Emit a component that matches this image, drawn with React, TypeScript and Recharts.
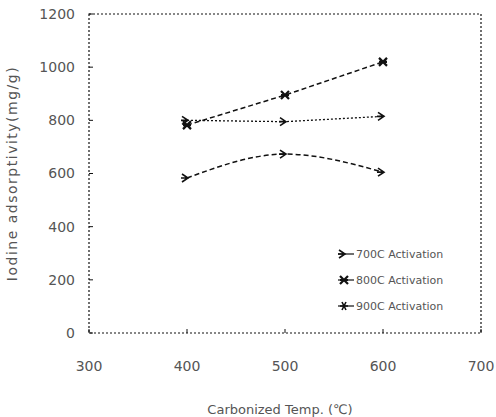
import { LineChart, Line, XAxis, YAxis, ReferenceArea } from 'recharts'

const carbonizedTemps = [400, 500, 600]
const act700 = [800, 795, 815]
const act800 = [782, 895, 1020]
const act900 = [583, 673, 605]

const xTicks = [300, 400, 500, 600, 700]
const yTicks = [0, 200, 400, 600, 800, 1000, 1200]

const seriesNames = ['700C Activation', '800C Activation', '900C Activation']

const data = carbonizedTemps.map((t, i) => ({
  temp: t,
  a700: act700[i],
  a800: act800[i],
  a900: act900[i],
}))

const ink = '#111'
const txt = '#555'
const font = '"DejaVu Sans", sans-serif'

function Marker({ kind, cx, cy }: { kind: number; cx: number; cy: number }) {
  if (kind === 0) {
    // arrow head
    return (
      <path d={`M${cx - 5},${cy - 4} L${cx + 1},${cy} L${cx - 5},${cy + 4} M${cx - 6},${cy} L${cx + 1},${cy}`} stroke={ink} strokeWidth={1.6} fill="none" />
    )
  }
  if (kind === 1) {
    // bold cross
    return (
      <path d={`M${cx - 4},${cy - 4} L${cx + 4},${cy + 4} M${cx + 4},${cy - 4} L${cx - 4},${cy + 4} M${cx - 4},${cy} L${cx + 4},${cy}`} stroke={ink} strokeWidth={2.2} fill="none" />
    )
  }
  return (
    <path d={`M${cx - 4},${cy} L${cx + 4},${cy} M${cx - 2},${cy - 4} L${cx + 2},${cy + 4} M${cx + 2},${cy - 4} L${cx - 2},${cy + 4}`} stroke={ink} strokeWidth={1.6} fill="none" />
  )
}

const dotFor = (kind: number) => (p: any) => <Marker key={`${kind}-${p.index}`} kind={kind} cx={p.cx} cy={p.cy} />

function LegendBox() {
  return (
    <svg width={130} height={80} style={{ fontFamily: font, position: 'absolute', left: 336, top: 244 }}>
      {seriesNames.map((n, i) => (
        <g key={n} transform={`translate(0, ${10 + i * 26})`}>
          <line x1={2} y1={0} x2={18} y2={0} stroke={ink} strokeWidth={1.2} />
          <Marker kind={i} cx={8} cy={0} />
          <text x={20} y={4} fontSize={11} fill={txt}>{n}</text>
        </g>
      ))}
    </svg>
  )
}

export default function App() {
  return (
    <div style={{ position: 'absolute', left: 0, top: 0, width: 496, height: 417, background: '#fff' }}>
      <LineChart width={496} height={417} data={data} margin={{ top: 14, right: 15, left: 0, bottom: 0 }}>
        <ReferenceArea x1={300} x2={700} y1={0} y2={1200} fill="none" stroke={ink} strokeWidth={1.2} strokeDasharray="2 2" ifOverflow="visible" />
        <XAxis
          dataKey="temp"
          type="number"
          domain={[300, 700]}
          ticks={xTicks}
          height={84}
          axisLine={false}
          tickSize={-4}
          tickMargin={32}
          tickLine={{ stroke: ink }}
          tick={{ fill: txt, fontSize: 14, fontFamily: font }}
          label={{ value: 'Carbonized Temp. (℃)', position: 'insideBottom', offset: 3, dx: -5, fill: txt, fontSize: 13, fontFamily: font }}
        />
        <YAxis
          type="number"
          domain={[0, 1200]}
          ticks={yTicks}
          width={89}
          axisLine={false}
          tickSize={-4}
          tickMargin={18}
          tickLine={{ stroke: ink }}
          tick={{ fill: txt, fontSize: 14, fontFamily: font }}
          label={{ value: 'Iodine adsorptivity(mg/g)', angle: -90, position: 'insideLeft', offset: 12, fill: txt, fontSize: 14, fontFamily: font, style: { textAnchor: 'middle', letterSpacing: 1.5 } }}
        />
        <Line dataKey="a700" name={seriesNames[0]} type="linear" stroke={ink} strokeWidth={1.3} strokeDasharray="2 2" dot={dotFor(0)} isAnimationActive={false} />
        <Line dataKey="a800" name={seriesNames[1]} type="linear" stroke={ink} strokeWidth={1.5} strokeDasharray="5 3" dot={dotFor(1)} isAnimationActive={false} />
        <Line dataKey="a900" name={seriesNames[2]} type="monotone" stroke={ink} strokeWidth={1.5} strokeDasharray="5 3" dot={dotFor(0)} isAnimationActive={false} />
      </LineChart>
      <LegendBox />
    </div>
  )
}
